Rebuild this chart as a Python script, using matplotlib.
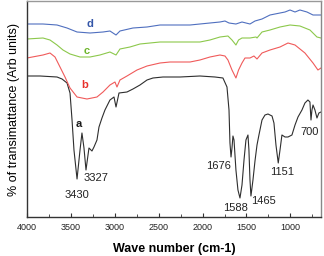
import matplotlib
matplotlib.use("Agg")
import matplotlib.pyplot as plt
from matplotlib.ticker import MultipleLocator

plt.rcParams['font.family'] = ['Liberation Sans', 'DejaVu Sans']

# FTIR spectra, wavenumber (cm-1) vs transmittance (arb units)
wn_a = [4000, 3852, 3658, 3601, 3544, 3510, 3487, 3465, 3430, 3396, 3374, 3351, 3328, 3305, 3294,
        3260, 3237, 3203, 3180, 3146, 3112, 3055, 3009, 2986, 2952, 2861, 2793, 2713, 2633, 2565,
        2451, 2257, 2030, 1859, 1768, 1722, 1699, 1688, 1676, 1665, 1654, 1642, 1620, 1597, 1574,
        1551, 1528, 1506, 1483, 1472, 1460, 1449, 1426, 1403, 1380, 1358, 1323, 1289, 1255, 1209,
        1187, 1164, 1138, 1118, 1096, 1061, 1027, 982, 947, 913, 868, 834, 800, 777, 765, 754, 742,
        720, 697, 675, 651]
t_a = [141, 141, 140, 138, 134, 124, 97, 67, 38, 67, 84, 69, 47, 62, 69,
       66, 70, 77, 90, 99, 107, 117, 120, 110, 124, 125, 128, 132, 137, 139,
       140, 140, 141, 140, 139, 130, 107, 74, 60, 69, 81, 77, 47, 27, 19,
       32, 57, 77, 82, 67, 37, 21, 37, 56, 72, 82, 97, 102, 103, 101,
       94, 72, 54, 67, 82, 80, 80, 82, 92, 100, 107, 114, 117, 115, 97, 107, 112,
       107, 99, 104, 105]

wn_b = [4000, 3818, 3738, 3681, 3624, 3567, 3510, 3430, 3317, 3203, 3134, 3055, 2998, 2975, 2941,
        2861, 2747, 2633, 2485, 2371, 2143, 2030, 1916, 1802, 1745, 1711, 1665, 1620, 1590, 1551,
        1517, 1460, 1415, 1380, 1323, 1232, 1118, 1027, 947, 834, 742, 686, 651]
t_b = [159, 162, 164, 160, 150, 140, 129, 120, 118, 120, 125, 132, 135, 130, 137,
       141, 147, 151, 154, 155, 155, 157, 160, 162, 161, 157, 147, 139, 147, 154,
       159, 159, 161, 158, 164, 167, 170, 174, 172, 164, 154, 147, 149]

wn_c = [4000, 3818, 3738, 3658, 3590, 3510, 3396, 3282, 3169, 3055, 2986, 2941, 2827, 2713, 2485,
        2257, 2030, 1916, 1802, 1711, 1665, 1620, 1590, 1551, 1460, 1392, 1380, 1323, 1232, 1118,
        1004, 891, 777, 697, 651]
t_c = [178, 179, 177, 172, 167, 163, 160, 160, 162, 165, 162, 168, 170, 173, 175,
       175, 175, 177, 180, 181, 177, 172, 177, 179, 179, 180, 179, 185, 187, 190,
       192, 191, 187, 180, 179]

wn_d = [4000, 3818, 3658, 3544, 3430, 3282, 3134, 3055, 2986, 2941, 2793, 2633, 2485, 2143, 2030,
        1916, 1802, 1745, 1699, 1620, 1551, 1460, 1403, 1323, 1232, 1118, 1061, 1004, 947, 891,
        811, 742, 686, 651]
t_d = [193, 193, 192, 189, 185, 184, 185, 186, 182, 186, 189, 190, 192, 192, 193,
       194, 195, 196, 194, 193, 195, 193, 196, 198, 202, 204, 205, 207, 205, 207,
       205, 202, 202, 202]

series_names = ['a', 'b', 'c', 'd']
line_colors = ['#2e2e2e', '#f05a5a', '#8cc84b', '#4f6fbf']
name_colors = ['#1a1a1a', '#e8302a', '#6cb52a', '#3456a8']
name_pos = [(3408, 93), (3339, 132), (3317, 166), (3282, 193)]

peak_labels = ['3430', '3327', '1676', '1588', '1465', '1151', '700']
peak_pos = [(3430, 22), (3214, 39), (1813, 51), (1620, 9), (1312, 16), (1096, 45), (777, 85)]

fig = plt.figure(figsize=(3.24, 2.56), dpi=100)
ax = fig.add_axes([27 / 324, 39 / 256, 294 / 324, 216 / 256])

spectra = [(wn_a, t_a), (wn_b, t_b), (wn_c, t_c), (wn_d, t_d)]
for (x, y), col in zip(spectra, line_colors):
    ax.plot(x, y, color=col, lw=0.8)

for name, col, (x, y) in zip(series_names, name_colors, name_pos):
    ax.text(x, y, name, color=col, fontsize=8, fontweight='bold', ha='center', va='center')

for lab, (x, y) in zip(peak_labels, peak_pos):
    ax.text(x, y, lab, color='#222222', fontsize=8, ha='center', va='center')

ax.set_xlim(4000, 651)
ax.set_ylim(0, 216)
ax.set_xticks([4000, 3500, 3000, 2500, 2000, 1500, 1000])
ax.xaxis.set_minor_locator(MultipleLocator(250))
ax.set_yticks([])
ax.tick_params(axis='x', which='both', direction='in', top=False, labelsize=6.5, pad=4,
               color='#333333', labelcolor='#222222')
ax.tick_params(axis='x', which='major', length=3)
ax.tick_params(axis='x', which='minor', length=2)

ax.spines['left'].set_color('#333333')
ax.spines['bottom'].set_color('#333333')
ax.spines['top'].set_color('#999999')
ax.spines['right'].set_color('#888888')
for s in ax.spines.values():
    s.set_linewidth(1.0)

ax.set_xlabel('Wave number (cm-1)', fontsize=9, fontweight='bold', labelpad=8)
ax.set_ylabel('% of transimattance (Arb units)', fontsize=9, labelpad=5)

fig.savefig('out.png', dpi=100)
